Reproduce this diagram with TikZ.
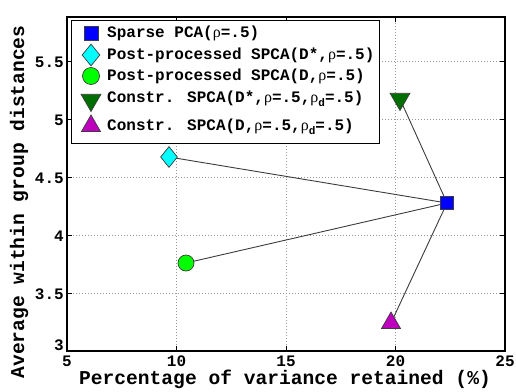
\documentclass[tikz,border=0pt]{standalone}
\usepackage{fontspec}
\newfontfamily\lmono{Liberation Mono}
\newfontfamily\lserif{Liberation Serif}
\usetikzlibrary{shapes.geometric}
\definecolor{mblue}{RGB}{0,0,255}
\definecolor{mcyan}{RGB}{0,255,255}
\definecolor{mgreen}{RGB}{0,255,0}
\definecolor{mdgreen}{RGB}{0,110,0}
\definecolor{mmag}{RGB}{190,0,190}
\definecolor{edgec}{RGB}{60,60,60}
\definecolor{gridc}{RGB}{150,150,150}
\newcommand{\rh}{{\lserif\mdseries ρ}}
\newcommand{\subd}{\raisebox{-4pt}{\fontsize{11pt}{11pt}\selectfont d}}
\begin{document}
\begin{tikzpicture}[x=1pt,y=-1pt,
  mk/.style={draw=edgec, line width=0.7pt, inner sep=0pt},
  sqm/.style={mk, rectangle, fill=mblue, minimum size=13pt},
  dim/.style={mk, diamond, fill=mcyan, minimum width=17pt, minimum height=21pt},
  cim/.style={mk, circle, fill=mgreen, minimum size=16pt},
  tdm/.style={mk, regular polygon, regular polygon sides=3, shape border rotate=180, fill=mdgreen, minimum size=23pt},
  tum/.style={mk, regular polygon, regular polygon sides=3, fill=mmag, minimum size=22pt},
  gridline/.style={gridc, line width=0.6pt, dash pattern=on 0.8pt off 2.2pt},
  conn/.style={edgec, line width=0.9pt},
  ticklab/.style={font=\lmono\bfseries\fontsize{16pt}{16pt}\selectfont, inner sep=0pt},
  axlab/.style={font=\lmono\bfseries\fontsize{19.6pt}{20pt}\selectfont, inner sep=0pt},
  legtext/.style={font=\lmono\bfseries\fontsize{16pt}{16pt}\selectfont, anchor=base west, inner sep=0pt},
]
\path[use as bounding box] (0,0) rectangle (516,391);
% grid
\foreach \gx in {176.5,286,395.5} \draw[gridline] (\gx,17) -- (\gx,351);
\foreach \gy in {61,119,177,235,293} \draw[gridline] (67,\gy) -- (505,\gy);
% axes box and ticks
\draw[line width=1.2pt] (67,17) rectangle (505,351);
\foreach \gx in {176.5,286,395.5} {
  \draw[line width=0.8pt] (\gx,351) -- (\gx,346);
  \draw[line width=0.8pt] (\gx,17) -- (\gx,22);
}
\foreach \gy in {61,119,177,235,293} {
  \draw[line width=0.8pt] (67,\gy) -- (72,\gy);
  \draw[line width=0.8pt] (505,\gy) -- (500,\gy);
}
% tick labels
\node[ticklab] (x5) at (67,361) {5};
\node[ticklab] (x10) at (176.5,361) {10};
\node[ticklab] (x15) at (286,361) {15};
\node[ticklab] (x20) at (395.5,361) {20};
\node[ticklab] (x25) at (505,361) {25};
\node[ticklab, anchor=east] (y3) at (64,345) {3};
\node[ticklab, anchor=east] (y35) at (64,294) {3.5};
\node[ticklab, anchor=east] (y4) at (64,236) {4};
\node[ticklab, anchor=east] (y45) at (64,178) {4.5};
\node[ticklab, anchor=east] (y5) at (64,120) {5};
\node[ticklab, anchor=east] (y55) at (64,62) {5.5};
% axis labels
\node[axlab] (xl) at (285,379) {Percentage of variance retained (\%)};
\node[axlab, rotate=90] (yl) at (19,202) {Average within group distances};
% data
\coordinate (pS) at (447,203);
\coordinate (pD) at (169,157);
\coordinate (pC) at (186,263);
\coordinate (pT) at (400,99);
\coordinate (pU) at (391,323);
\draw[conn] (pS) -- (pD);
\draw[conn] (pS) -- (pC);
\draw[conn] (pS) -- (pT);
\draw[conn] (pS) -- (pU);
\node[sqm] (mS) at (pS) {};
\node[dim] (mD) at (pD) {};
\node[cim] (mC) at (pC) {};
\node[tdm] (mT) at (pT) {};
\node[tum] (mU) at (pU) {};
% legend
\draw[fill=white, line width=0.9pt] (71,20) rectangle (379,143);
\node[sqm, minimum size=14pt] (l1) at (91,33) {};
\node[dim, minimum width=18pt, minimum height=22pt] (l2) at (91,55) {};
\node[cim, minimum size=17pt] (l3) at (91,76) {};
\node[tdm] (l4) at (91,100) {};
\node[tum] (l5) at (91,126) {};
\node[legtext] (t1) at (107,37.5) {Sparse PCA(\rh=.5)};
\node[legtext] (t2) at (107,59.5) {Post-processed SPCA(D*,\rh=.5)};
\node[legtext] (t3) at (107,80.5) {Post-processed SPCA(D,\rh=.5)};
\node[legtext] (t4) at (107,102.5) {Constr. SPCA(D*,\rh=.5,\rh\subd=.5)};
\node[legtext] (t5) at (107,130.5) {Constr. SPCA(D,\rh=.5,\rh\subd=.5)};
\end{tikzpicture}
\end{document}
